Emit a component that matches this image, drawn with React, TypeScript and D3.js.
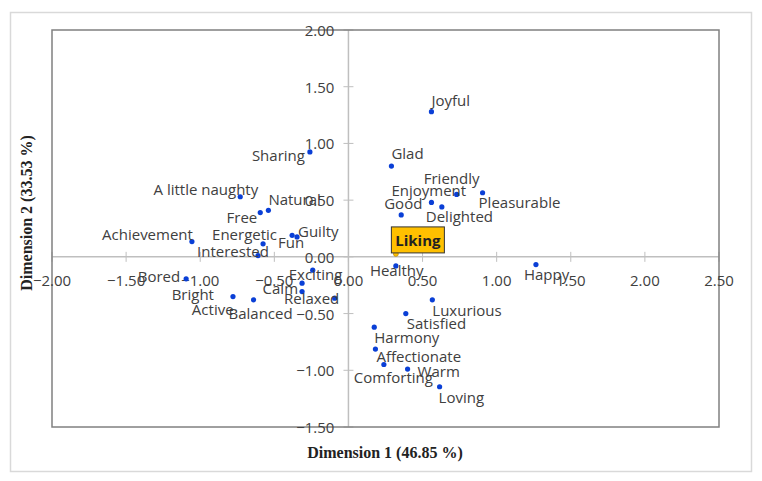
import React from "react";
import * as d3 from "d3";

const TERMS = ["Joyful","Sharing","Glad","A little naughty","Natural","Free","Friendly","Pleasurable","Enjoyment","Delighted","Good","Achievement","Energetic","Fun","Guilty","Interested","Healthy","Happy","Bored","Exciting","Calm","Relaxed","Balanced","Bright","Active","Luxurious","Satisfied","Harmony","Affectionate","Comforting","Warm","Loving"];
const DIM1 = [0.56,-0.26,0.29,-0.73,-0.54,-0.595,0.73,0.905,0.56,0.63,0.356,-1.056,-0.576,-0.38,-0.347,-0.61,0.32,1.265,-1.095,-0.241,-0.313,-0.313,-0.093,-0.779,-0.64,0.566,0.387,0.174,0.182,0.239,0.399,0.615];
const DIM2 = [1.28,0.925,0.80,0.53,0.41,0.39,0.55,0.565,0.48,0.44,0.37,0.135,0.115,0.19,0.176,0.011,-0.08,-0.068,-0.194,-0.117,-0.232,-0.306,-0.364,-0.35,-0.379,-0.379,-0.5,-0.62,-0.813,-0.949,-0.989,-1.145];
const LIKING = { name: "Liking", x: 0.32, y: 0.026 };
const X_TICKS = [-2, -1.5, -1, -0.5, 0, 0.5, 1, 1.5, 2, 2.5];
const Y_TICKS = [2, 1.5, 1, 0.5, 0, -0.5, -1, -1.5];
const X_TITLE = "Dimension 1 (46.85 %)";
const Y_TITLE = "Dimension 2 (33.53 %)";

// label placement relative to the point: [anchor, dx, dy]
const LABEL_POS: Record<string, [string, number, number]> = {
  "Joyful": ["start", 0, -12],
  "Sharing": ["end", -5, 3],
  "Glad": ["start", 0, -13],
  "A little naughty": ["end", 18, -8],
  "Natural": ["start", 0, -11],
  "Free": ["end", -3, 4],
  "Friendly": ["middle", -5, -16],
  "Pleasurable": ["start", -4, 9],
  "Enjoyment": ["start", -40, -12],
  "Delighted": ["start", -16, 9],
  "Good": ["start", -17, -12],
  "Achievement": ["end", 1, -8],
  "Energetic": ["start", -51, -10],
  "Fun": ["start", -14, 7],
  "Guilty": ["start", 1, -6],
  "Interested": ["start", -61, -5],
  "Healthy": ["start", -26, 4],
  "Happy": ["start", -12, 9],
  "Bored": ["end", -6, -3],
  "Exciting": ["start", -24, 4],
  "Calm": ["end", -4, 5],
  "Relaxed": ["start", -18, 6],
  "Balanced": ["end", -42, 15],
  "Bright": ["end", -19, -3],
  "Active": ["end", -20, 9],
  "Luxurious": ["start", 0, 10],
  "Satisfied": ["start", 1, 9],
  "Harmony": ["start", 0, 10],
  "Affectionate": ["start", 1, 7],
  "Comforting": ["start", -30, 12],
  "Warm": ["start", 10, 2],
  "Loving": ["start", -1, 10],
};

const W = 762, H = 481;
const PL = 52, PR = 719, PT = 30, PB = 427;
const FONT = "'Open Sans', sans-serif";
const TXT = "#404040";

export default function App() {
  const x = d3.scaleLinear().domain([-2, 2.5]).range([PL, PR]);
  const y = d3.scaleLinear().domain([-1.5, 2]).range([PB, PT]);
  const x0 = x(0), y0 = y(0);
  const fmt = d3.format(".2f");
  const pts = TERMS.map((t, i) => ({ t, px: x(DIM1[i]), py: y(DIM2[i]) }));
  const lx = x(LIKING.x), ly = y(LIKING.y);
  return (
    <svg width={W} height={H} style={{ position: "absolute", left: 0, top: 0 }} fontFamily={FONT}>
      <rect x={0} y={0} width={W} height={H} fill="#fff" />
      <rect x={10.5} y={12.5} width={741} height={459} fill="none" stroke="#d9d9d9" strokeWidth={1.5} />
      {/* zero axes */}
      <line x1={PL} x2={PR} y1={y0} y2={y0} stroke="#bfbfbf" strokeWidth={1.5} />
      <line x1={x0} x2={x0} y1={PT} y2={PB} stroke="#bfbfbf" strokeWidth={1.5} />
      {X_TICKS.map(v => (
        <line key={"xt" + v} x1={x(v)} x2={x(v)} y1={y0 - 5} y2={y0 + 5} stroke="#bfbfbf" strokeWidth={1} />
      ))}
      {Y_TICKS.map(v => (
        <line key={"yt" + v} x1={x0 - 5} x2={x0 + 5} y1={y(v)} y2={y(v)} stroke="#bfbfbf" strokeWidth={1} />
      ))}
      <rect x={PL} y={PT} width={PR - PL} height={PB - PT} fill="none" stroke="#808080" strokeWidth={1.5} />
      {X_TICKS.map(v => (
        <text key={"xl" + v} x={x(v)} y={y0 + 23} textAnchor="middle" dominantBaseline="central" fontSize={15} fill={TXT}>{fmt(v)}</text>
      ))}
      {Y_TICKS.map(v => (
        <text key={"yl" + v} x={x0 - 14} y={y(v)} textAnchor="end" dominantBaseline="central" fontSize={15} fill={TXT}>{fmt(v)}</text>
      ))}
      {pts.map(p => (
        <circle key={"c" + p.t} cx={p.px} cy={p.py} r={2.6} fill="#0a3fd6" />
      ))}
      {pts.map(p => {
        const [a, dx, dy] = LABEL_POS[p.t] || ["start", 3, 0];
        return (
          <text key={"l" + p.t} x={p.px + dx} y={p.py + dy} textAnchor={a} dominantBaseline="central" fontSize={15} fill={TXT}>{p.t}</text>
        );
      })}
      <circle cx={lx} cy={ly} r={2.5} fill="#ffc000" stroke="#b08000" strokeWidth={0.6} />
      <rect x={lx - 4.5} y={ly - 27} width={53} height={26} fill="#ffc000" stroke="#333" strokeWidth={1} />
      <text x={lx + 22} y={ly - 14} textAnchor="middle" dominantBaseline="central" fontSize={15} fontWeight="bold" fill="#222">{LIKING.name}</text>
      <text x={385} y={452} textAnchor="middle" dominantBaseline="central" fontFamily="'Liberation Serif', serif" fontWeight="bold" fontSize={16} fill="#222">{X_TITLE}</text>
      <text transform={`translate(26,213) rotate(-90)`} textAnchor="middle" dominantBaseline="central" fontFamily="'Liberation Serif', serif" fontWeight="bold" fontSize={16} fill="#222">{Y_TITLE}</text>
    </svg>
  );
}
